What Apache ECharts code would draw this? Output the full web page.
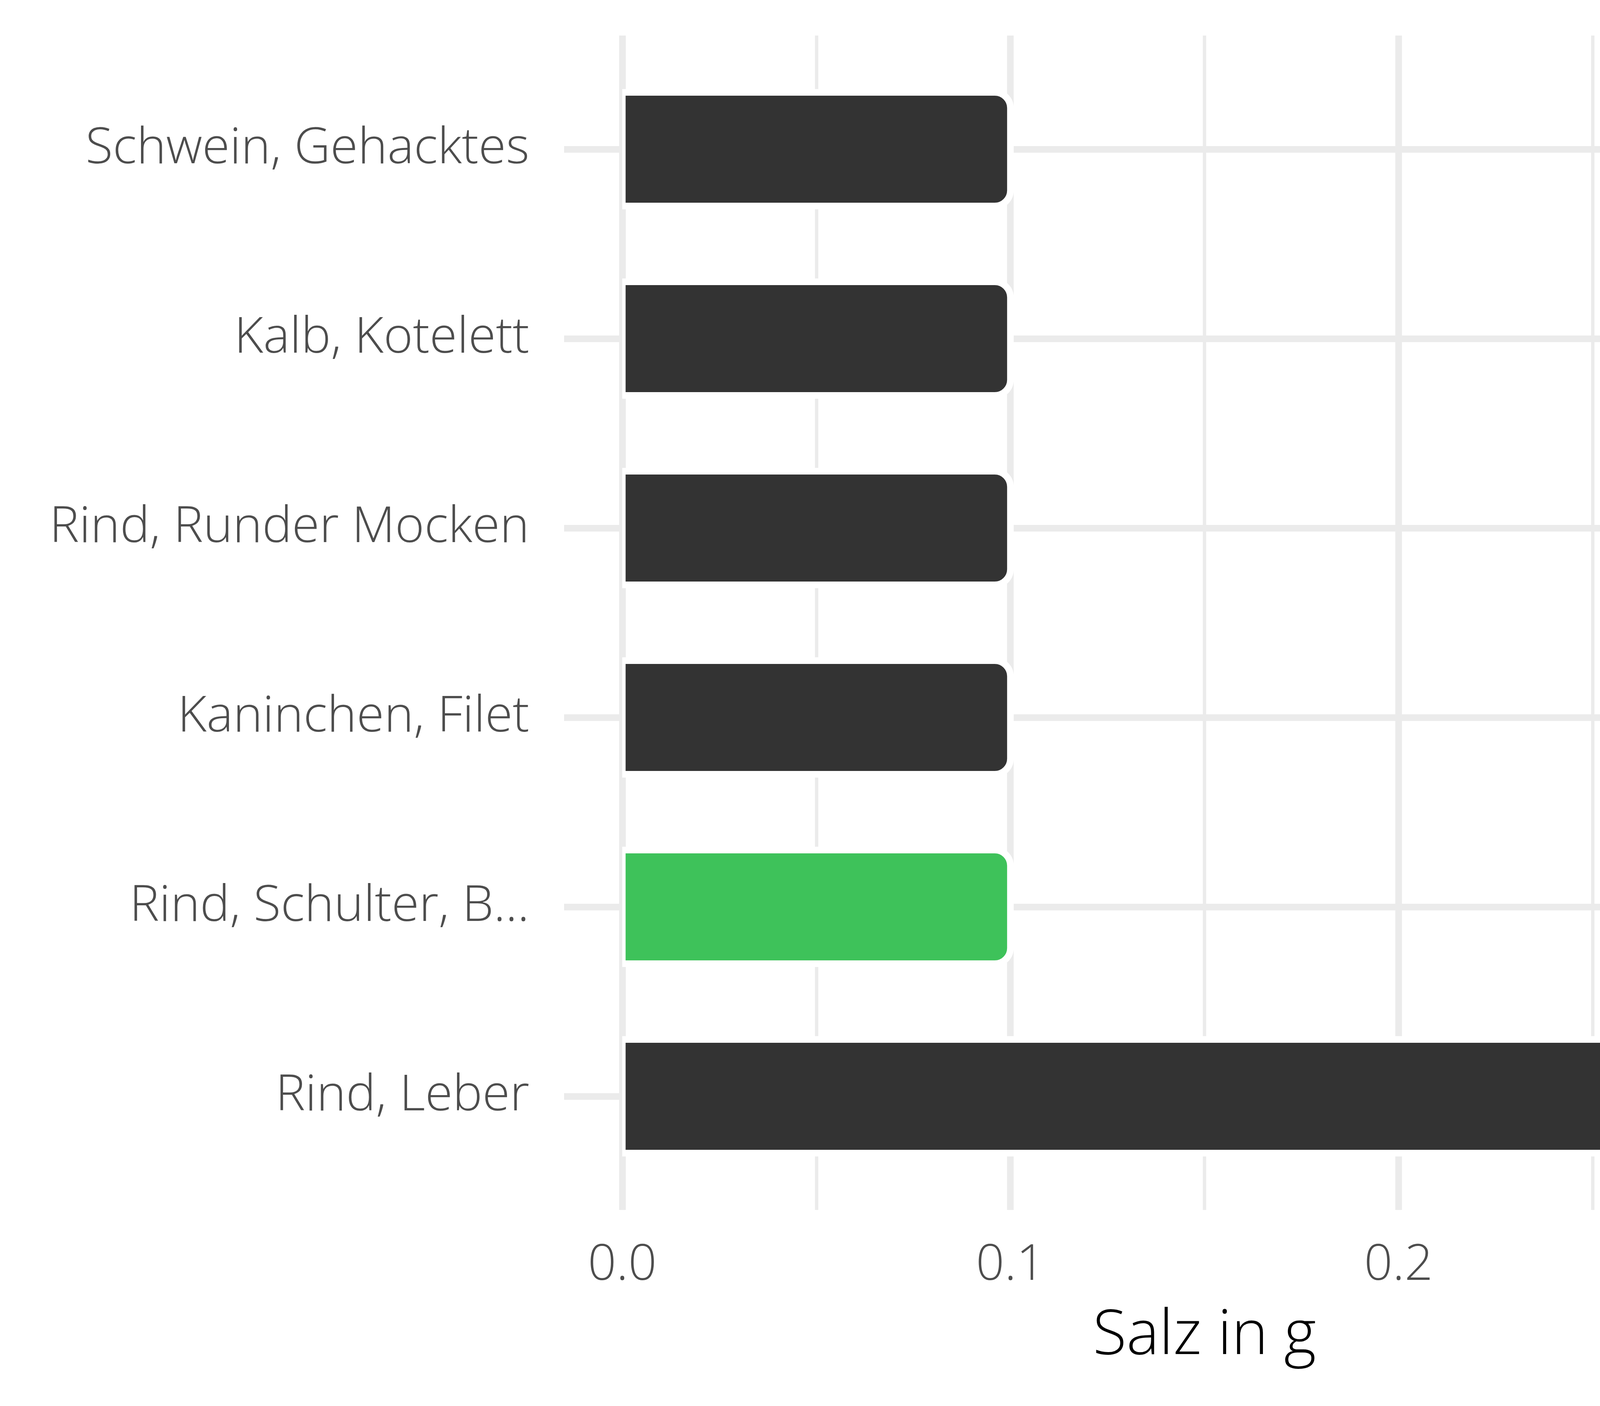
<!DOCTYPE html>
<html>
<head>
<meta charset="utf-8">
<script src="https://cdn.jsdelivr.net/npm/echarts@6/dist/echarts.min.js"></script>
<style>
html,body{margin:0;padding:0;background:#fff;overflow:hidden;}
#chart{width:4800px;height:3600px;}
</style>
</head>
<body>
<div id="chart"></div>
<script>
const categories = ['Schwein, Gehacktes', 'Kalb, Kotelett', 'Rind, Runder Mocken', 'Kaninchen, Filet', 'Rind, Schulter, B...', 'Rind, Leber'];
const values = [0.1, 0.1, 0.1, 0.1, 0.1, 0.3];
const highlight = 'Rind, Schulter, B...';
const xTicks = [0, 0.1, 0.2, 0.3];
const xMinorTicks = [0.05, 0.15, 0.25];
const xTitle = 'Salz in g';

const xMin = -0.015, xMax = 0.315;
const font = 'Open Sans';
const gridColor = '#EBEBEB';
const rowTicks = categories.map((c, i) => i + 1);

const panel = {left: 1444, right: 77, top: 91, bottom: 502};
const unitPx = (3600 - panel.top - panel.bottom) / (categories.length + 0.2);
const pxPerUnitX = (4800 - panel.left - panel.right) / (xMax - xMin);
const barGrid = {
  left: panel.left + (0 - xMin) * pxPerUnitX,
  right: panel.right,
  top: panel.top + 0.1 * unitPx,
  bottom: panel.bottom + 0.1 * unitPx
};

const chart = echarts.init(document.getElementById('chart'), null, {renderer: 'canvas'});
chart.setOption({
  backgroundColor: '#ffffff',
  animation: false,
  grid: [
    Object.assign({containLabel: false}, panel),
    Object.assign({containLabel: false}, barGrid)
  ],
  xAxis: [
    {
      type: 'value', gridIndex: 0, min: xMin, max: xMax, position: 'bottom',
      axisLine: {show: false},
      axisTick: {show: false, customValues: xTicks},
      axisLabel: {show: true, customValues: xTicks, formatter: v => v.toFixed(1),
        fontFamily: font, fontWeight: 300, fontSize: 128, color: '#4D4D4D', margin: 79},
      splitLine: {show: true, lineStyle: {color: gridColor, width: 17}},
      name: xTitle, nameLocation: 'middle', nameGap: 245,
      nameTextStyle: {fontFamily: font, fontWeight: 300, fontSize: 158, color: '#000000'}
    },
    {
      type: 'value', gridIndex: 0, min: xMin, max: xMax, position: 'top',
      axisLine: {show: false},
      axisTick: {show: false, customValues: xMinorTicks},
      axisLabel: {show: false},
      splitLine: {show: true, lineStyle: {color: gridColor, width: 8.5}}
    },
    {
      type: 'value', gridIndex: 1, min: 0, max: xMax,
      axisLine: {show: false}, axisTick: {show: false},
      axisLabel: {show: false}, splitLine: {show: false}
    }
  ],
  yAxis: [
    {
      type: 'value', gridIndex: 0, min: 0.4, max: categories.length + 0.6,
      axisLine: {show: false},
      axisTick: {show: false, customValues: rowTicks},
      axisLabel: {show: false},
      splitLine: {show: true, lineStyle: {color: gridColor, width: 17}}
    },
    {
      type: 'category', gridIndex: 1, data: categories, inverse: true,
      axisLine: {show: false}, axisTick: {show: false},
      splitLine: {show: false},
      axisLabel: {fontFamily: font, fontWeight: 300, fontSize: 128, color: '#4D4D4D', margin: 238}
    }
  ],
  series: [{
    type: 'custom',
    xAxisIndex: 2, yAxisIndex: 1,
    clip: true,
    encode: {x: 0, y: 1},
    data: values.map((v, i) => [v, i]),
    renderItem: function (params, api) {
      const v = api.value(0);
      const cat = api.value(1);
      const start = api.coord([0, cat]);
      const end = api.coord([v, cat]);
      const band = api.size([0, 1])[1];
      const h = band * 0.6;
      const color = categories[params.dataIndex] === highlight ? '#3EC25A' : '#333333';
      return {
        type: 'rect',
        shape: {x: start[0], y: start[1] - h / 2, width: end[0] - start[0], height: h, r: [0, 40, 40, 0]},
        style: {fill: color, stroke: '#ffffff', lineWidth: 17}
      };
    }
  }]
});
</script>
</body>
</html>
